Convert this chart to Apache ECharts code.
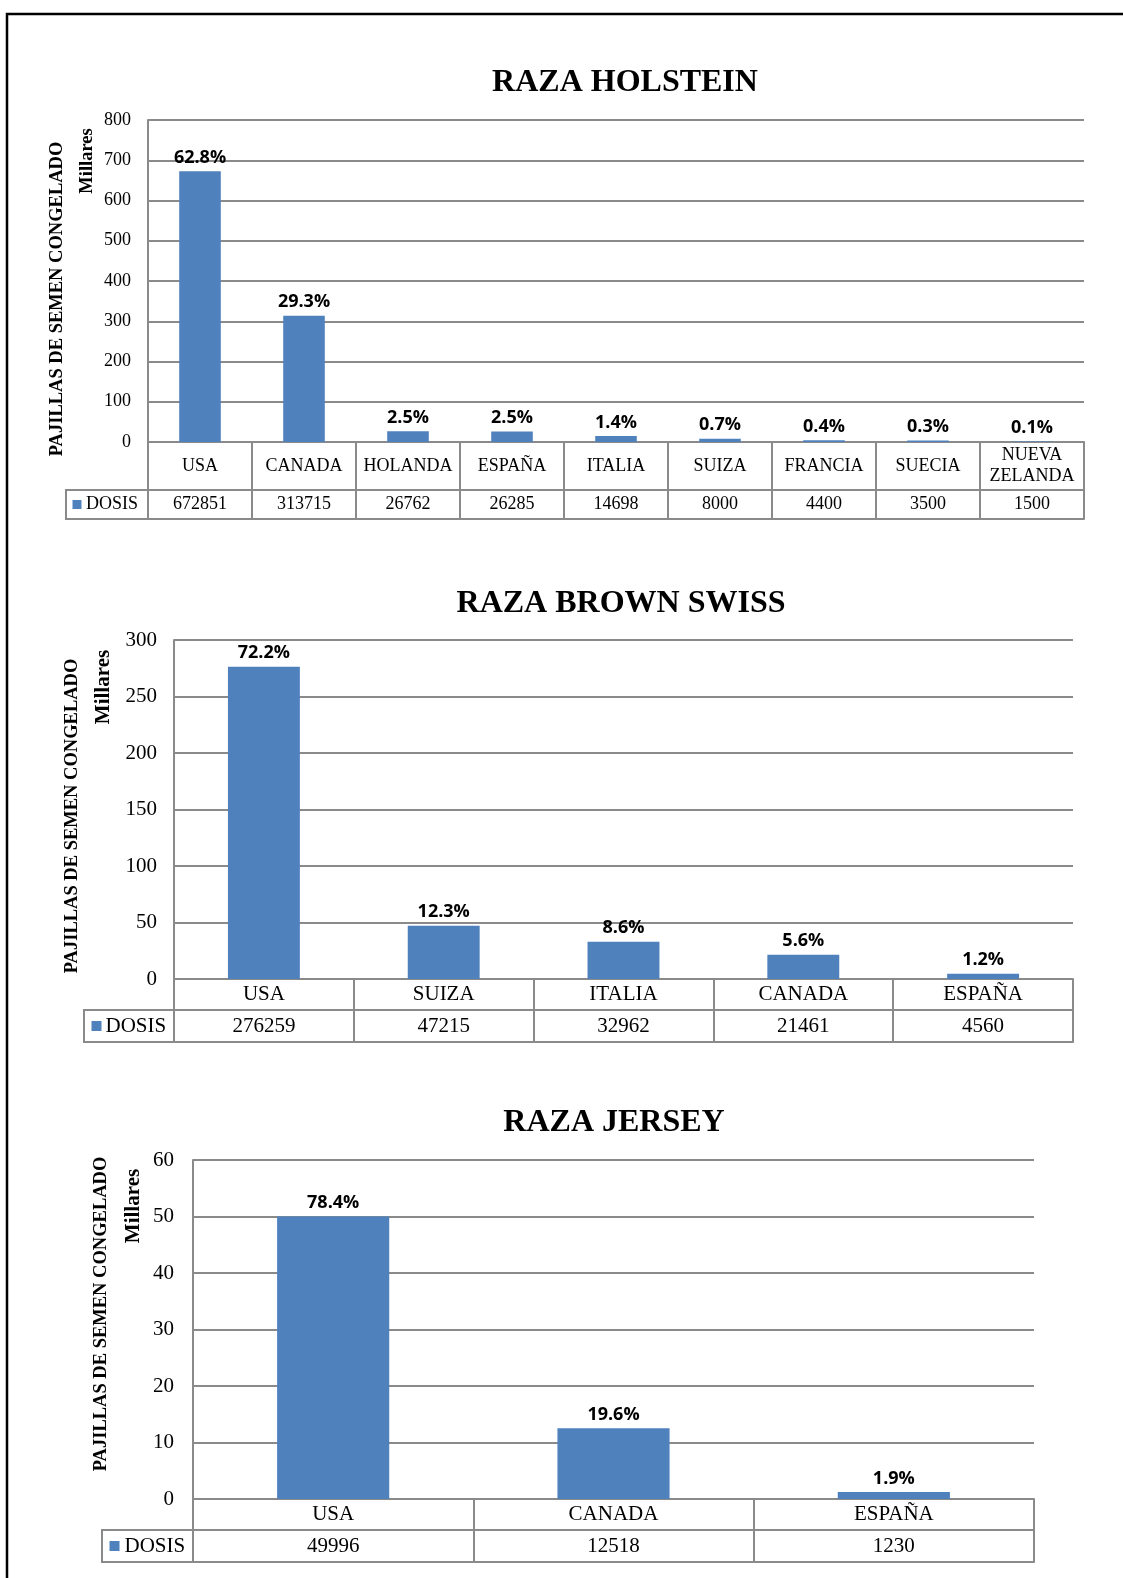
<!DOCTYPE html>
<html>
<head>
<meta charset="utf-8">
<script src="https://cdn.jsdelivr.net/npm/echarts@6/dist/echarts.min.js"></script>
<style>
html,body{margin:0;padding:0;background:#fff;}
#chart{width:1123px;height:1578px;}
</style>
</head>
<body>
<div id="chart"></div>
<script>
// ---------- DATA ----------
const seriesName = 'DOSIS';
const yAxisTitle = 'PAJILLAS DE SEMEN CONGELADO';
const unitLabel = 'Millares';

const holsteinTitle = 'RAZA HOLSTEIN';
const holsteinCats = ['USA', 'CANADA', 'HOLANDA', 'ESPAÑA', 'ITALIA', 'SUIZA', 'FRANCIA', 'SUECIA', 'NUEVA\nZELANDA'];
const holsteinDosis = [672851, 313715, 26762, 26285, 14698, 8000, 4400, 3500, 1500];
const holsteinPct = ['62.8%', '29.3%', '2.5%', '2.5%', '1.4%', '0.7%', '0.4%', '0.3%', '0.1%'];
const holsteinTicks = [0, 100, 200, 300, 400, 500, 600, 700, 800];

const brownTitle = 'RAZA BROWN SWISS';
const brownCats = ['USA', 'SUIZA', 'ITALIA', 'CANADA', 'ESPAÑA'];
const brownDosis = [276259, 47215, 32962, 21461, 4560];
const brownPct = ['72.2%', '12.3%', '8.6%', '5.6%', '1.2%'];
const brownTicks = [0, 50, 100, 150, 200, 250, 300];

const jerseyTitle = 'RAZA JERSEY';
const jerseyCats = ['USA', 'CANADA', 'ESPAÑA'];
const jerseyDosis = [49996, 12518, 1230];
const jerseyPct = ['78.4%', '19.6%', '1.9%'];
const jerseyTicks = [0, 10, 20, 30, 40, 50, 60];

// ---------- LAYOUT ----------
const BAR = '#4F81BD';
const GRID = '#8a8a8a';
const SERIF = '"Liberation Serif", "Times New Roman", serif';
const SANS = '"Open Sans", sans-serif';

const charts = [
  { title: holsteinTitle, cats: holsteinCats, vals: holsteinDosis, pct: holsteinPct, ticks: holsteinTicks,
    L: 148, R: 1084, T: 120, Z: 442, r1: 48, r2: 29, legL: 66, fs: 18, tickFs: 18, milFs: 18.5,
    titleX: 625, titleY: 83, nameX: 57, nameY: 299, milX: 87, milY: 161, tickMargin: 17,
    sqX: 72.5, sq: 9, legTextX: 86 },
  { title: brownTitle, cats: brownCats, vals: brownDosis, pct: brownPct, ticks: brownTicks,
    L: 174, R: 1073, T: 640, Z: 979, r1: 31, r2: 32, legL: 84, fs: 21, tickFs: 21, milFs: 21,
    titleX: 621, titleY: 604, nameX: 72.5, nameY: 816, milX: 104, milY: 687, tickMargin: 17,
    sqX: 91.5, sq: 10, legTextX: 105.5 },
  { title: jerseyTitle, cats: jerseyCats, vals: jerseyDosis, pct: jerseyPct, ticks: jerseyTicks,
    L: 193, R: 1034, T: 1160, Z: 1499, r1: 31, r2: 32, legL: 102, fs: 21, tickFs: 21, milFs: 21,
    titleX: 614, titleY: 1123, nameX: 101, nameY: 1314, milX: 134, milY: 1206, tickMargin: 19,
    sqX: 109.5, sq: 10, legTextX: 124.5 }
];

const option = {
  animation: false,
  backgroundColor: '#fff',
  grid: [], xAxis: [], yAxis: [], series: [], graphic: []
};

function txt(text, x, y, font, opts) {
  opts = opts || {};
  return {
    type: 'text', x: x, y: y, rotation: opts.rotation || 0, z: 100,
    style: {
      text: text, x: 0, y: 0, font: font, fill: '#000',
      align: opts.align || 'center', textAlign: opts.align || 'center',
      verticalAlign: 'middle', textVerticalAlign: 'middle'
    }
  };
}

// outer frame
option.graphic.push({
  type: 'polyline', z: 100,
  shape: { points: [[7, 1578], [7, 14], [1123, 14]] },
  style: { stroke: '#000', lineWidth: 2.5, fill: null }
});

charts.forEach(function (c, i) {
  option.grid.push({ left: c.L, top: c.T, width: c.R - c.L, height: c.Z - c.T, containLabel: false });
  const step = (c.ticks[1] - c.ticks[0]) * 1000;
  option.yAxis.push({
    gridIndex: i, type: 'value',
    min: c.ticks[0] * 1000, max: c.ticks[c.ticks.length - 1] * 1000, interval: step,
    axisLine: { show: true, lineStyle: { color: GRID, width: 2 } },
    axisTick: { show: false },
    splitLine: { show: true, lineStyle: { color: GRID, width: 2 } },
    axisLabel: {
      formatter: function (v) { return String(v / 1000); },
      fontFamily: SERIF, fontSize: c.tickFs, color: '#000', margin: c.tickMargin
    }
  });
  const base = option.xAxis.length;
  // category row
  option.xAxis.push({
    gridIndex: i, type: 'category', data: c.cats, position: 'bottom',
    axisLine: { show: true, lineStyle: { color: GRID, width: 2 } },
    axisTick: { show: true, length: c.r1 + c.r2, interval: 0, lineStyle: { color: GRID, width: 2 } },
    axisLabel: { interval: 0, margin: c.r1 / 2, verticalAlign: 'middle', fontFamily: SERIF,
      fontSize: c.fs, color: '#000', lineHeight: c.fs + 3 },
    splitLine: { show: false }
  });
  // values row
  option.xAxis.push({
    gridIndex: i, type: 'category', data: c.cats, position: 'bottom', offset: c.r1,
    axisLine: { show: true, lineStyle: { color: GRID, width: 2 } },
    axisTick: { show: false },
    axisLabel: { interval: 0, margin: c.r2 / 2, verticalAlign: 'middle', fontFamily: SERIF,
      fontSize: c.fs, color: '#000',
      formatter: function (v, idx) { return String(c.vals[idx]); } },
    splitLine: { show: false }
  });
  // bottom border
  option.xAxis.push({
    gridIndex: i, type: 'category', data: c.cats, position: 'bottom', offset: c.r1 + c.r2,
    axisLine: { show: true, lineStyle: { color: GRID, width: 2 } },
    axisTick: { show: false }, axisLabel: { show: false }, splitLine: { show: false }
  });
  option.series.push({
    name: seriesName, type: 'bar', xAxisIndex: base, yAxisIndex: i,
    data: c.vals, barWidth: '40%',
    itemStyle: { color: BAR },
    label: {
      show: true, position: 'top', distance: 4.5,
      fontFamily: SANS, fontWeight: 'bold', fontSize: 18, color: '#000',
      formatter: function (p) { return c.pct[p.dataIndex]; }
    }
  });
  // legend cell of the data table
  const y1 = c.Z + c.r1, y2 = c.Z + c.r1 + c.r2;
  option.graphic.push({
    type: 'polyline', z: 100,
    shape: { points: [[c.L, y1], [c.legL, y1], [c.legL, y2], [c.L, y2]] },
    style: { stroke: GRID, lineWidth: 2, fill: null }
  });
  option.graphic.push({
    type: 'rect', z: 100,
    shape: { x: c.sqX, y: (y1 + y2) / 2 - c.sq / 2, width: c.sq, height: c.sq },
    style: { fill: BAR }
  });
  option.graphic.push(txt(seriesName, c.legTextX, (y1 + y2) / 2, c.fs + 'px ' + SERIF, { align: 'left' }));
  // titles
  option.graphic.push(txt(c.title, c.titleX, c.titleY, 'bold 32px ' + SERIF));
  option.graphic.push(txt(yAxisTitle, c.nameX, c.nameY, 'bold 18.5px ' + SERIF, { rotation: Math.PI / 2 }));
  option.graphic.push(txt(unitLabel, c.milX, c.milY, 'bold ' + c.milFs + 'px ' + SERIF, { rotation: Math.PI / 2 }));
});

const chart = echarts.init(document.getElementById('chart'), null, { renderer: 'canvas' });
chart.setOption(option);
</script>
</body>
</html>
